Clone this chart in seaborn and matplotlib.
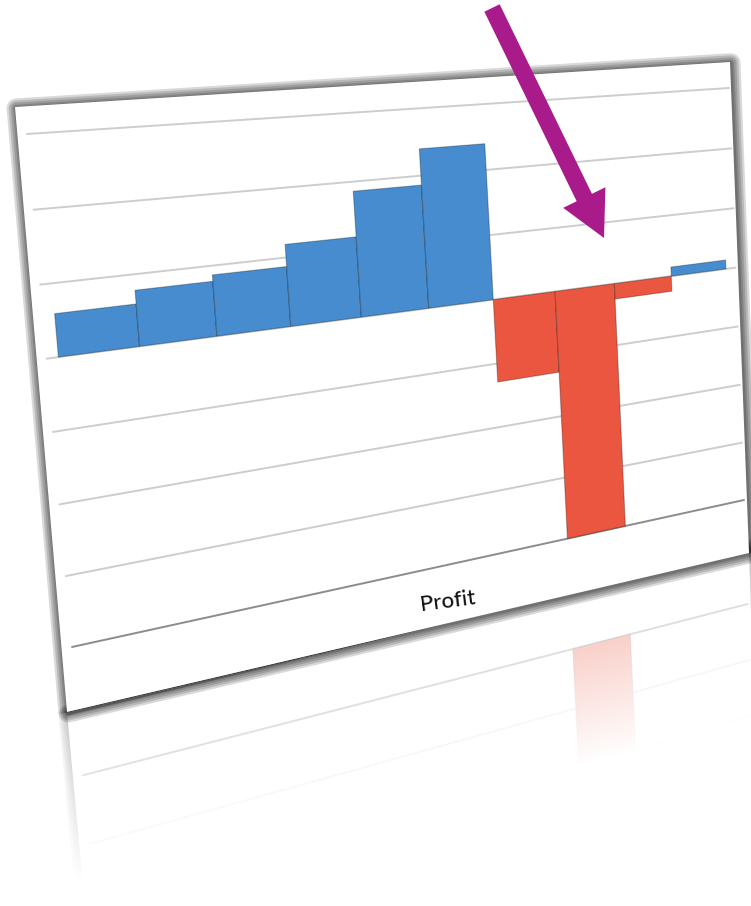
import numpy as np
import matplotlib
matplotlib.use("Agg")
import matplotlib.pyplot as plt
import matplotlib.transforms as mtransforms
from matplotlib.patches import Polygon, FancyArrow
import seaborn as sns

# data
periods = ["2001", "2002", "2003", "2004", "2005", "2006", "2007", "2008", "2009", "2010"]
profit = [5.9, 7.8, 8.7, 11.9, 18.6, 24.0, -12.9, -40.0, -2.5, 1.5]
grid_ticks = [30, 20, 10, 0, -10, -20, -30, -40]
axis_label = "Profit"

sign = ["gain" if v >= 0 else "loss" for v in profit]
palette = {"gain": "#468cce", "loss": "#eb5640"}

sns.set_style("white")
plt.rcParams["font.family"] = ["Lato", "DejaVu Sans"]

W, H = 751, 906
# tilted plot area and card, picture pixels (y down): TL, TR, BR, BL
plot_quad = [(27, 134), (729, 88), (744, 500), (72, 647)]
card_quad = [(15, 107), (730, 62), (749, 553), (67, 712)]


class Homography(mtransforms.Transform):
    input_dims = 2
    output_dims = 2

    def __init__(self, m):
        super().__init__()
        self.m = m

    def transform_non_affine(self, values):
        v = np.asarray(values, dtype=float).reshape(-1, 2)
        p = np.column_stack([v, np.ones(len(v))]) @ self.m.T
        return p[:, :2] / p[:, 2:]


def solve_h(src, dst):
    A, b = [], []
    for (x, y), (u, v) in zip(src, dst):
        A.append([x, y, 1, 0, 0, 0, -u * x, -u * y])
        b.append(u)
        A.append([0, 0, 0, x, y, 1, -v * x, -v * y])
        b.append(v)
    h = np.linalg.solve(np.array(A, float), np.array(b, float))
    return np.append(h, 1).reshape(3, 3)


pix = mtransforms.Affine2D().scale(1, -1).translate(0, H)
src = [(0, H), (W, H), (W, 0), (0, 0)]
M = solve_h(src, [(x, H - y) for x, y in plot_quad])
warp = Homography(M)

# card corners back in the flat (unwarped) axes space
Minv = np.linalg.inv(M)
cd = np.array([(x, H - y, 1.0) for x, y in card_quad]) @ Minv.T
card_flat = cd[:, :2] / cd[:, 2:]
yb = card_flat[2:, 1].mean()
mirror = mtransforms.Affine2D().scale(1, -1).translate(0, 2 * yb)


def draw_card(a, extra, z):
    shadow = card_flat + np.array([1.0, -2.0])
    for lw in [14, 11, 8, 5, 2.5]:
        a.add_patch(Polygon(shadow, closed=True, fill=False, edgecolor="black",
                            alpha=0.15, lw=lw, joinstyle="round",
                            transform=extra, zorder=z, clip_on=False))
    a.add_patch(Polygon(card_flat, closed=True, facecolor="white", edgecolor="none",
                        transform=extra, zorder=z + 0.1, clip_on=False))


def draw_chart(a, extra):
    sns.barplot(x=periods, y=profit, hue=sign, palette=palette, dodge=False,
                width=1, saturation=1, legend=False, edgecolor="#00000045",
                linewidth=0.8, ax=a)
    bars = list(a.patches)
    a.set_xlim(-0.64, 9.68)
    a.set_ylim(-40, 30)
    a.set_axis_off()
    for b in bars:
        b.set_transform(a.transData + extra)
        b.set_clip_on(False)
        b.set_zorder(3)
    for t in grid_ticks:
        c = "#8c8c8c" if t == grid_ticks[-1] else "#cdcdcd"
        ln = a.axhline(t, color=c, lw=1.4, zorder=2)
        ln.set_transform(ln.get_transform() + extra)
        ln.set_clip_on(False)
    draw_card(a, extra, 0.5)


fig = plt.figure(figsize=(W / 100, H / 100), dpi=100, facecolor="white")
ax_ref = fig.add_axes([0, 0, 1, 1], zorder=0)
ax_fade = fig.add_axes([0, 0, 1, 1], zorder=1)
ax = fig.add_axes([0, 0, 1, 1], zorder=2)

# reflection below the card
draw_chart(ax_ref, mirror + warp)

# fade the reflection away from the card's bottom edge
yy, xx = np.mgrid[0:H, 0:W]
edge = card_quad[3][1] + (card_quad[2][1] - card_quad[3][1]) / (card_quad[2][0] - card_quad[3][0]) * (xx - card_quad[3][0])
d = yy - edge
fade = np.ones((H, W, 4))
fade[..., 3] = np.where(d < 0, 0.0, 0.6 + 0.4 * np.clip(d / 170, 0, 1))
ax_fade.imshow(fade, extent=(0, W, H, 0), aspect="auto", interpolation="bilinear")
ax_fade.set_xlim(0, W)
ax_fade.set_ylim(H, 0)
ax_fade.set_axis_off()

# the chart itself
draw_chart(ax, warp)
ax.text(448, 601, axis_label, transform=pix, rotation=7.5, rotation_mode="anchor",
        ha="center", va="center", fontsize=16, fontweight="medium",
        color="#111111", zorder=5)

ax.add_patch(FancyArrow(492, 8, 112, 230, width=17, head_width=47, head_length=45,
                        length_includes_head=True, color="#a91b8b", lw=0,
                        transform=pix, zorder=6, clip_on=False))

fig.savefig("out.png", dpi=100, facecolor="white")
